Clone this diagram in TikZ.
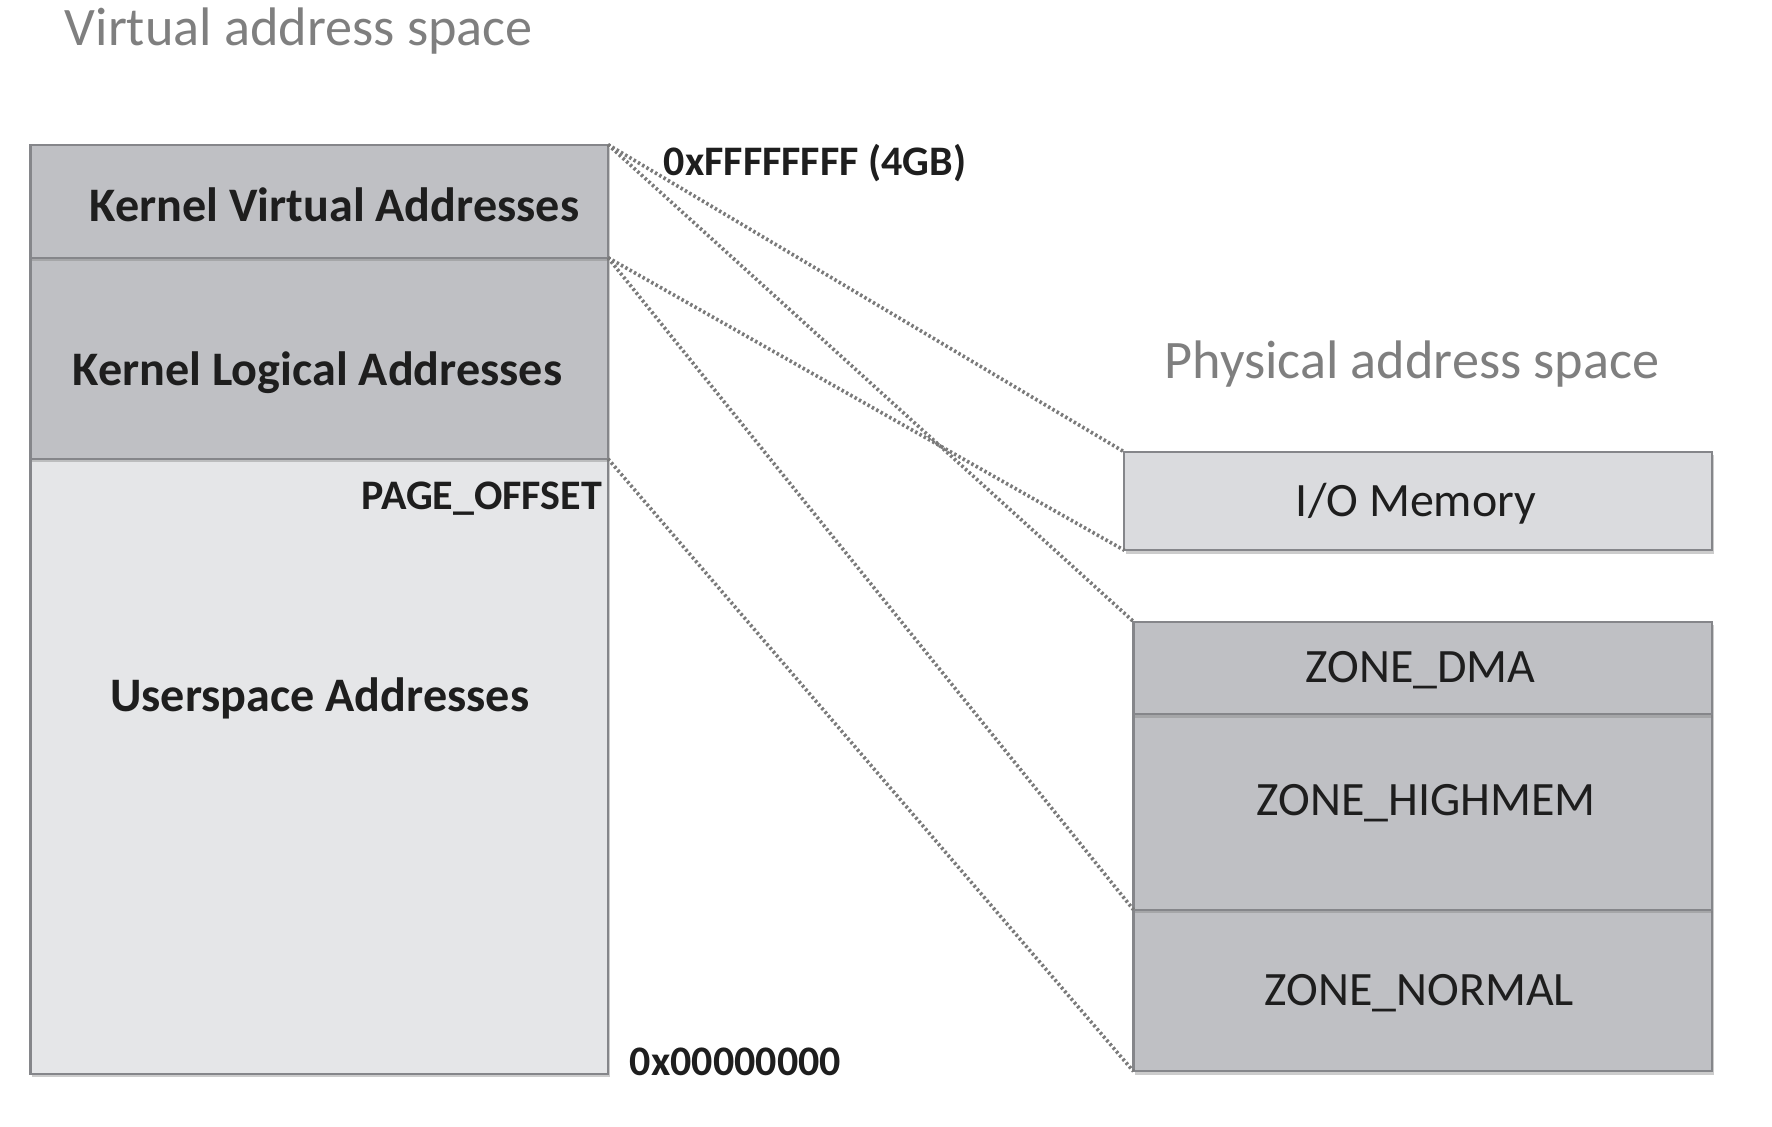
\documentclass[tikz,border=0pt]{standalone}
\usepackage{fontspec}
\setmainfont{Carlito}
\usepackage{tikz}
\usetikzlibrary{positioning,shadows}
\definecolor{zonegray}{HTML}{BFC0C4}
\definecolor{usergray}{HTML}{E5E6E8}
\definecolor{iogray}{HTML}{DADBDE}
\definecolor{edgegray}{HTML}{85868A}
\definecolor{inkgray}{HTML}{1E1E1E}
\definecolor{headgray}{HTML}{7F7F7F}
\definecolor{dotgray}{HTML}{7A7A7A}
\tikzstyle{mem}=[rectangle, draw=edgegray, line width=0.9pt, inner sep=0pt, outer sep=0pt, drop shadow={shadow xshift=0.8pt, shadow yshift=-1.5pt, opacity=0.4}]
\tikzstyle{dark}=[mem, fill=zonegray]
\tikzstyle{light}=[mem, fill=usergray]
\tikzstyle{boxtext}=[text=inkgray, font=\fontsize{21.2}{25}\selectfont, inner sep=0pt, anchor=base]
\tikzstyle{boldtext}=[boxtext, font=\fontsize{21.3}{25}\selectfont\bfseries]
\tikzstyle{addr}=[text=inkgray, font=\fontsize{18.6}{22}\selectfont\bfseries, inner sep=0pt]
\tikzstyle{heading}=[text=headgray, font=\fontsize{24}{29}\selectfont, inner sep=0pt, anchor=base west]
\tikzstyle{link}=[draw=dotgray, line width=1.6pt, dash pattern=on 1.1pt off 1.1pt]

\begin{document}
\begin{tikzpicture}[x=0.5pt, y=-0.5pt]
    \useasboundingbox (0,0) rectangle (1568,996.5);
    \node[heading] (vtitle) at (57,40) {Virtual address space};
    \node[heading] (ptitle) at (1030,335) {Physical address space};

    \node[light, minimum width=255.5pt, minimum height=272pt, anchor=south west] (user) at (27,950) {};
    \node[dark, minimum width=255.5pt, minimum height=89pt, above=0pt of user] (kl) {};
    \node[dark, minimum width=255.5pt, minimum height=50pt, above=0pt of kl] (kv) {};
    \node[boldtext] (kvt) at (296,196) {Kernel Virtual Addresses};
    \node[boldtext] (klt) at (281,341) {Kernel Logical Addresses};
    \node[boldtext] (ust) at (283,630) {Userspace Addresses};

    \node[addr, anchor=base west] (top) at (587,155) {0xFFFFFFFF (4GB)};
    \node[addr, anchor=base east] (poff) at (533,451) {PAGE\_OFFSET};
    \node[addr, anchor=base west] (zero) at (557,951.5) {0x00000000};

    \node[mem, fill=iogray, minimum width=260pt, minimum height=43.5pt, anchor=north west] (io) at (995,400) {};
    \node[dark, minimum width=256pt, minimum height=71.5pt, anchor=south west] (normal) at (1003,948) {};
    \node[dark, minimum width=256pt, minimum height=86.5pt, above=0pt of normal] (high) {};
    \node[dark, minimum width=256pt, minimum height=41pt, above=0pt of high] (dma) {};
    \node[boxtext] (iot) at (1253,457) {I/O Memory};
    \node[boxtext] (dmat) at (1257,604) {ZONE\_DMA};
    \node[boxtext] (hight) at (1262,722) {ZONE\_HIGHMEM};
    \node[boxtext] (normt) at (1256,890) {ZONE\_NORMAL};

    \draw[link] (kv.north east) -- (io.north west);
    \draw[link] (kv.north east) -- (dma.north west);
    \draw[link] (kl.north east) -- (io.south west);
    \draw[link] (kl.north east) -- (normal.north west);
    \draw[link] (user.north east) -- (normal.south west);
\end{tikzpicture}
\end{document}
